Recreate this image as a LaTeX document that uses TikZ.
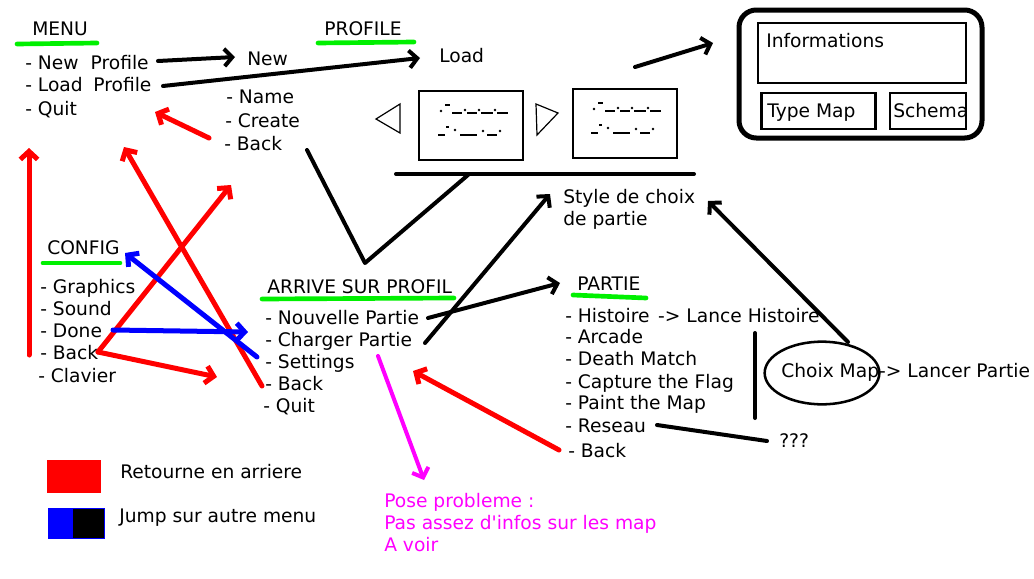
\documentclass[tikz,border=0pt]{standalone}
\usepackage{fontspec}
\setmainfont{DejaVu Sans}[Ligatures=TeXOff]
\usetikzlibrary{arrows.meta,shapes.geometric}
\definecolor{lgreen}{RGB}{0,240,0}
\definecolor{pred}{RGB}{255,0,0}
\definecolor{pblue}{RGB}{0,0,255}
\definecolor{pmag}{RGB}{255,0,255}
\newcommand{\morsebox}{%
  \fill (441,111) circle (1.1pt);
  \draw (445,105) -- (450,105);
  \draw (452,113) -- (462,113);
  \fill (465,110) circle (1.1pt);
  \draw (467,113) -- (477,113);
  \fill (479,110) circle (1.1pt);
  \draw (481,113) -- (493,113);
  \fill (495,110) circle (1.1pt);
  \draw (497,113) -- (508,113);
  \draw (438,135) -- (445,135);
  \draw (446,127) -- (449,127);
  \fill (455,130) circle (1.1pt);
  \draw (460,135) -- (477,135);
  \fill (483,131) circle (1.1pt);
  \draw (487,135) -- (497,135);
  \fill (500,131) circle (1.1pt);
}
\begin{document}
\begin{tikzpicture}[x=0.75pt,y=-0.75pt,
  txt/.style={anchor=base west,inner sep=0pt,font=\fontsize{14}{16}\selectfont},
  ul/.style={draw=lgreen,line width=3.5pt,line cap=round},
  tip/.style={-{Straight Barb[length=6pt,width=13pt]}},
  blk/.style={draw=black,line width=3pt,line cap=round,tip},
  redarr/.style={draw=pred,line width=3.75pt,line cap=round,tip},
  bluearr/.style={draw=pblue,line width=3.75pt,line cap=round,tip},
  magarr/.style={draw=pmag,line width=3pt,line cap=round,tip},
  thin/.style={draw=black,line width=0.9pt},
  panel/.style={draw=black,line width=2.2pt}]
\useasboundingbox (0,0) rectangle (1034,578);
\fill[white] (0,0) rectangle (1034,578);

% ---------------- MENU
\node[txt] (menu) at (32,35) {MENU};
\draw[ul] (17,44) -- (97,43);
\node[txt] (newp) at (25,69) {- New\hspace{9pt}Profile};
\node[txt] (loadp) at (25,91) {- Load\hspace{8pt}Profile};
\node[txt] (quit) at (25,115) {- Quit};

% ---------------- PROFILE
\node[txt] (profile) at (324,35) {PROFILE};
\draw[ul] (318,43) -- (414,42);
\node[txt] (new) at (247,65) {New};
\node[txt] (load) at (439,62) {Load};
\node[txt] (name) at (226,103) {- Name};
\node[txt] (create) at (225,127) {- Create};
\node[txt] (pback) at (224,150) {- Back};

\coordinate (newpE) at (158,61);
\coordinate (newW) at (235,57);
\coordinate (loadpE) at (163,86);
\coordinate (loadW) at (420,58);
\draw[blk] (newpE) -- (newW);
\draw[blk] (loadpE) -- (loadW);

% previews
\draw[thin] (376,119) -- (400,104) -- (400,133) -- cycle;
\node[thin,minimum width=78pt,minimum height=51.75pt,inner sep=0pt] (prev1) at (471,125.5) {};
\draw[thin] (536,104) -- (558,113) -- (537,135) -- cycle;
\node[thin,minimum width=78pt,minimum height=51.75pt,inner sep=0pt] (prev2) at (625,123.5) {};
\begin{scope}[line width=1.5pt]
  \morsebox
\end{scope}
\begin{scope}[shift={(153,-2)},line width=1.5pt]
  \morsebox
\end{scope}
\coordinate (barL) at (396,174);
\coordinate (barR) at (694,174);
\draw[line width=3pt,line cap=round] (barL) -- (barR);

% ---------------- INFO PANEL
\coordinate (infoArrS) at (635,67);
\coordinate (infoArrE) at (713,43);
\draw[blk] (infoArrS) -- (infoArrE);
\draw[line width=3.75pt,rounded corners=13pt] (739,10) rectangle (982,138);
\node[panel,minimum width=156pt,minimum height=45pt,inner sep=0pt] (infobox) at (862,53) {};
\node[txt] (infotxt) at (766,47) {Informations};
\node[panel,minimum width=86pt,minimum height=27pt,inner sep=0pt] (typebox) at (818.5,111) {};
\node[txt] (typetxt) at (767,117) {Type Map};
\node[panel,minimum width=57pt,minimum height=27pt,inner sep=0pt] (schbox) at (928,111) {};
\node[txt] (schtxt) at (893,117) {Schema};

% ---------------- STYLE DE CHOIX
\node[txt] (style1) at (563,203) {Style de choix};
\node[txt] (style2) at (563,225) {de partie};

% ---------------- CONFIG
\node[txt] (config) at (47,254) {CONFIG};
\draw[ul] (43,263) -- (120,263);
\node[txt] (graph) at (40,293) {- Graphics};
\node[txt] (sound) at (40,315) {- Sound};
\node[txt] (done) at (40,337) {- Done};
\node[txt] (cback) at (40,359) {- Back};
\node[txt] (clav) at (38,382) {- Clavier};

% ---------------- ARRIVE SUR PROFIL
\node[txt] (arrive) at (267,293) {ARRIVE SUR PROFIL};
\draw[ul] (262,299) -- (454,298);
\node[txt] (nouv) at (265,324) {- Nouvelle Partie};
\node[txt] (charg) at (265,346) {- Charger Partie};
\node[txt] (sett) at (265,368) {- Settings};
\node[txt] (aback) at (265,390) {- Back};
\node[txt] (aquit) at (263,412) {- Quit};

% ---------------- PARTIE
\node[txt] (partie) at (577,290) {PARTIE};
\draw[ul] (573,295) -- (646,298);
\node[txt] (hist) at (565,322) {- Histoire\hspace{2pt} -> Lance Histoire};
\node[txt] (arc) at (565,343) {- Arcade};
\node[txt] (death) at (565,365) {- Death Match};
\node[txt] (capt) at (565,388) {- Capture the Flag};
\node[txt] (paint) at (565,409) {- Paint the Map};
\node[txt] (res) at (565,432) {- Reseau};
\node[txt] (ptback) at (568,457) {- Back};
\coordinate (vtop) at (755,333);
\coordinate (vbot) at (755,418);
\draw[line width=3pt,line cap=round] (vtop) -- (vbot);
\node[draw,ellipse,line width=1.9pt,inner sep=0pt,minimum width=86pt,minimum height=47pt] (choix) at (822,373) {};
\node[txt] (choixtxt) at (781,377) {Choix Map-> Lancer Partie};
\node[txt] (qqq) at (779,447) {???};
\coordinate (resE) at (657,425);
\coordinate (qqqW) at (767,441);
\draw[line width=3pt,line cap=round] (resE) -- (qqqW);

% ---------------- BLACK CONNECTORS
\coordinate (vA) at (307,150);
\coordinate (vB) at (365,263);
\coordinate (vC) at (468,175);
\draw[line width=3pt,line cap=round,line join=round] (vA) -- (vB) -- (vC);
\coordinate (chargE) at (425,343);
\coordinate (styleArr) at (550,194);
\draw[blk] (chargE) -- (styleArr);
\coordinate (nouvE) at (428,318);
\coordinate (partieW) at (560,283);
\draw[blk] (nouvE) -- (partieW);
\coordinate (choixN) at (848,342);
\coordinate (styleArr2) at (708,201);
\draw[blk] (choixN) -- (styleArr2);

% ---------------- RED CONNECTORS
\coordinate (r1s) at (29,355);
\coordinate (r1e) at (29,148);
\draw[redarr] (r1s) -- (r1e);
\coordinate (r2s) at (262,386);
\coordinate (r2e) at (124,147);
\draw[redarr] (r2s) -- (r2e);
\coordinate (r3s) at (209,138);
\coordinate (r3e) at (155,112);
\draw[redarr] (r3s) -- (r3e);
\coordinate (cbackE) at (98,352);
\coordinate (r4e) at (231,185);
\draw[redarr] (cbackE) -- (r4e);
\coordinate (r5e) at (217,377);
\draw[redarr] (cbackE) -- (r5e);
\coordinate (r6s) at (559,450);
\coordinate (r6e) at (413,371);
\draw[redarr] (r6s) -- (r6e);

% ---------------- BLUE CONNECTORS
\coordinate (doneE) at (113,330);
\coordinate (b1e) at (248,332);
\draw[bluearr] (doneE) -- (b1e);
\coordinate (settE) at (257,357);
\coordinate (configE) at (125,253);
\draw[bluearr] (settE) -- (configE);

% ---------------- MAGENTA
\coordinate (m1s) at (378,356);
\coordinate (m1e) at (424,480);
\draw[magarr] (m1s) -- (m1e);
\node[txt,text=pmag] (pose1) at (384,507) {Pose probleme :};
\node[txt,text=pmag] (pose2) at (384,529) {Pas assez d'infos sur les map};
\node[txt,text=pmag] (pose3) at (384,551) {A voir};

% ---------------- LEGEND
\fill[pred] (47,460) rectangle (101,493);
\node[txt] (leg1) at (120,478) {Retourne en arriere};
\fill[pblue] (48,508) rectangle (73,538);
\fill[black] (73,508) rectangle (104,538);
\draw[pblue,line width=0.75pt] (48,508) rectangle (104,538);
\node[txt] (leg2) at (119,522) {Jump sur autre menu};
\end{tikzpicture}
\end{document}
